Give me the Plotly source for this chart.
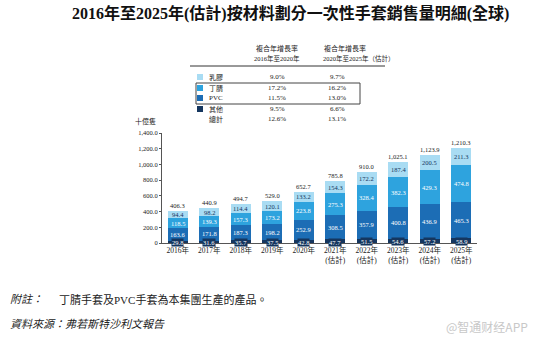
import plotly.graph_objects as go

years = ["2016年", "2017年", "2018年", "2019年", "2020年",
         "2021年<br>(估計)", "2022年<br>(估計)", "2023年<br>(估計)", "2024年<br>(估計)", "2025年<br>(估計)"]
other = [29.8, 31.6, 35.7, 37.5, 42.8, 47.7, 51.5, 54.6, 57.2, 58.9]
pvc = [163.6, 171.8, 187.3, 198.2, 252.9, 308.5, 357.9, 400.8, 436.9, 465.3]
nitrile = [118.5, 139.3, 157.3, 173.2, 223.8, 275.3, 328.4, 382.3, 429.3, 474.8]
latex = [94.4, 98.2, 114.4, 120.1, 133.2, 154.3, 172.2, 187.4, 200.5, 211.3]
totals = [406.3, 440.9, 494.7, 529.0, 652.7, 785.8, 910.0, 1025.1, 1123.9, 1210.3]
y_ticks = [0, 200, 400, 600, 800, 1000, 1200, 1400]
y_ticktext = ["0", "200.0", "400.0", "600.0", "800.0", "1,000.0", "1,200.0", "1,400.0"]

series_names = ["其他", "PVC", "丁腈", "乳膠"]
cagr_1620 = {"乳膠": "9.0%", "丁腈": "17.2%", "PVC": "11.5%", "其他": "9.5%", "總計": "12.6%"}
cagr_2025 = {"乳膠": "9.7%", "丁腈": "16.2%", "PVC": "13.0%", "其他": "6.6%", "總計": "13.1%"}

C_LATEX = "#a9dcf3"
C_NITRILE = "#2ea3de"
C_PVC = "#1c6db5"
C_OTHER = "#15365f"

W, H = 554, 338
L, R, T, B = 162, 77, 133, 95
PW, PH = W - L - R, H - T - B

def px(x):
    return (x - L) / PW

def py(y):
    return (H - B - y) / PH

SERIF = "Liberation Serif, Noto Sans CJK TC, serif"

fig = go.Figure()
for name, vals, col in [("其他", other, C_OTHER), ("PVC", pvc, C_PVC),
                        ("丁腈", nitrile, C_NITRILE), ("乳膠", latex, C_LATEX)]:
    fig.add_trace(go.Bar(x=years, y=vals, name=name, marker=dict(color=col, line=dict(width=0)),
                         showlegend=False, hoverinfo="x+y+name"))

annotations = []
for i, yr in enumerate(years):
    annotations.append(dict(x=yr, y=other[i] / 2, text=f"{other[i]:.1f}", showarrow=False,
                            font=dict(size=6.5, color="white", family=SERIF),
                            bgcolor=C_OTHER, borderpad=0, yshift=-1))
    base = other[i]
    for vals, col in [(pvc, "white"), (nitrile, "white"), (latex, C_OTHER)]:
        annotations.append(dict(x=yr, y=base + vals[i] / 2, text=f"{vals[i]:.1f}", showarrow=False,
                                font=dict(size=6.5, color=col, family=SERIF)))
        base += vals[i]
    annotations.append(dict(x=yr, y=totals[i], yanchor="bottom", text=f"{totals[i]:,.1f}",
                            showarrow=False, font=dict(size=6.5, color="#222", family=SERIF)))

def ptext(x, y, text, size=7.5, xanchor="center", color="#222", family=SERIF):
    annotations.append(dict(xref="paper", yref="paper", x=px(x), y=py(y), text=text,
                            showarrow=False, xanchor=xanchor, yanchor="middle",
                            font=dict(size=size, color=color, family=family)))

# title
ptext(290, 14, "<b>2016年至2025年(估計)按材料劃分一次性手套銷售量明細(全球)</b>", size=16, color="#111")
# table headers
ptext(277, 48, "複合年增長率", size=7)
ptext(277, 58, "2016年至2020年", size=6.5)
ptext(322, 48, "複合年增長率", size=7, xanchor="left")
ptext(321, 58, "2020年至2025年（估計）", size=6.5, xanchor="left")
rows = ["乳膠", "丁腈", "PVC", "其他", "總計"]
row_y = [77, 88, 98, 109, 119]
row_col = {"乳膠": C_LATEX, "丁腈": C_NITRILE, "PVC": C_PVC, "其他": C_OTHER}
shapes = []
for r_, yy in zip(rows, row_y):
    ptext(207, yy, r_, size=7, xanchor="left")
    ptext(277, yy, cagr_1620[r_], size=7)
    ptext(337, yy, cagr_2025[r_], size=7)
    if r_ in row_col:
        shapes.append(dict(type="rect", xref="paper", yref="paper",
                           x0=px(197), x1=px(203), y0=py(yy + 3), y1=py(yy - 3),
                           fillcolor=row_col[r_], line=dict(width=0)))
shapes.append(dict(type="line", xref="paper", yref="paper", x0=px(190), x1=px(385),
                   y0=py(66), y1=py(66), line=dict(color="#333", width=1)))
shapes.append(dict(type="rect", xref="paper", yref="paper", x0=px(196), x1=px(360),
                   y0=py(104), y1=py(83), line=dict(color="#444", width=1)))
# unit
ptext(145, 121, "十億隻", size=7)
# footer
ptext(8, 299, "<i>附註：</i>", size=11, xanchor="left")
ptext(57, 299, "丁腈手套及PVC手套為本集團生產的產品。", size=11, xanchor="left")
ptext(8, 324, "<i>資料來源：弗若斯特沙利文報告</i>", size=11, xanchor="left")
ptext(530, 326, "@智通财经APP", size=12, xanchor="right", color="#c8c8c8",
      family="Noto Sans CJK SC, sans-serif")

fig.update_layout(
    width=W, height=H, margin=dict(l=L, r=R, t=T, b=B),
    barmode="stack", bargap=0.37,
    paper_bgcolor="white", plot_bgcolor="white",
    annotations=annotations, shapes=shapes,
    xaxis=dict(showline=True, linecolor="#555", linewidth=1, ticks="", showgrid=False,
               tickfont=dict(size=7.5, family=SERIF, color="#222"), fixedrange=True),
    yaxis=dict(range=[0, 1400], tickvals=y_ticks, ticktext=y_ticktext, showgrid=False,
               showline=True, linecolor="#555", linewidth=1, ticks="outside", ticklen=2,
               tickcolor="#555", zeroline=False,
               tickfont=dict(size=6.5, family=SERIF, color="#222")),
    font=dict(family=SERIF),
)

fig.write_html("out.html")
